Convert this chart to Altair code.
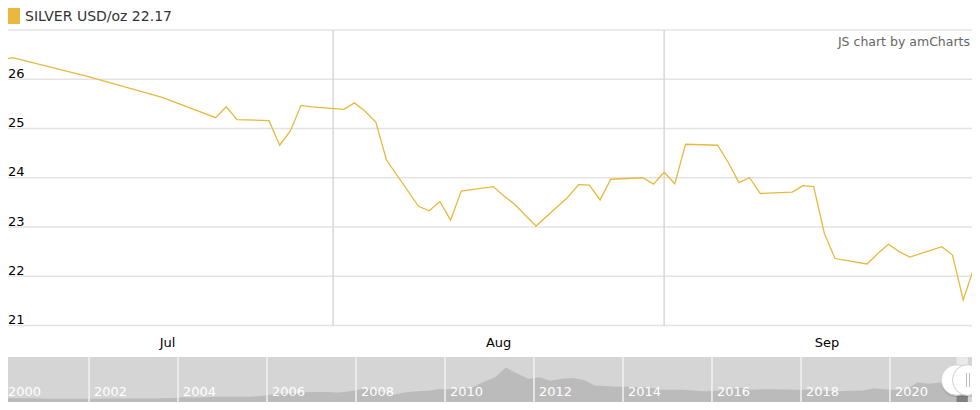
import altair as alt
import pandas as pd

# ---------------- data ----------------
dates = [
    "2021-06-30", "2021-07-01", "2021-07-02", "2021-07-09", "2021-07-16",
    "2021-07-21", "2021-07-22", "2021-07-23", "2021-07-26", "2021-07-27",
    "2021-07-28", "2021-07-29", "2021-07-30", "2021-08-02", "2021-08-03",
    "2021-08-04", "2021-08-05", "2021-08-06", "2021-08-09", "2021-08-10",
    "2021-08-11", "2021-08-12", "2021-08-13", "2021-08-16", "2021-08-17",
    "2021-08-18", "2021-08-19", "2021-08-20", "2021-08-23", "2021-08-24",
    "2021-08-25", "2021-08-26", "2021-08-27", "2021-08-30", "2021-08-31",
    "2021-09-01", "2021-09-02", "2021-09-03", "2021-09-06", "2021-09-07",
    "2021-09-08", "2021-09-09", "2021-09-10", "2021-09-13", "2021-09-14",
    "2021-09-15", "2021-09-16", "2021-09-17", "2021-09-20", "2021-09-21",
    "2021-09-22", "2021-09-23", "2021-09-24", "2021-09-27", "2021-09-28",
    "2021-09-29", "2021-09-30", "2021-10-01",
]
prices = [
    26.34, 26.39, 26.44, 26.06, 25.63,
    25.22, 25.44, 25.18, 25.16, 24.66,
    24.95, 25.47, 25.44, 25.39, 25.52,
    25.35, 25.13, 24.36, 23.42, 23.33,
    23.52, 23.14, 23.73, 23.82, 23.63,
    23.46, 23.24, 23.02, 23.61, 23.86,
    23.85, 23.55, 23.97, 24.00, 23.87,
    24.11, 23.88, 24.68, 24.66, 24.31,
    23.90, 24.00, 23.68, 23.71, 23.84,
    23.82, 22.87, 22.36, 22.25, 22.46,
    22.65, 22.50, 22.39, 22.60, 22.43,
    21.52, 22.17, 22.58,
]

y_ticks = [21, 22, 23, 24, 25, 26]
grid_values = [21, 22, 23, 24, 25, 26, 27]
month_starts = ["2021-08-01", "2021-09-01"]
month_labels = ["Jul", "Aug", "Sep"]
month_label_dates = ["2021-07-16T12:00:00Z", "2021-08-16T12:00:00Z", "2021-09-16T06:00:00Z"]

legend_text = "SILVER USD/oz 22.17"
credit_text = "JS chart by amCharts"

# long-history silver series for the scrollbar (quarterly)
hist_dates = (["2000-01-01"]
              + [f"{y}-{m}-15" for y in range(2000, 2022) for m in ("02", "05", "08", "11")][:-1]
              + ["2021-10-01"])
hist_values = [
    5.3,
    5.3, 5.0, 4.9, 4.7,
    4.5, 4.4, 4.3, 4.5,
    4.5, 4.8, 4.6, 4.6,
    4.6, 4.6, 5.0, 5.2,
    6.5, 6.0, 6.5, 7.2,
    7.0, 7.2, 7.0, 8.0,
    10.0, 11.5, 11.8, 12.9,
    13.3, 13.3, 12.8, 14.4,
    17.0, 17.0, 13.0, 10.0,
    13.0, 14.5, 15.0, 17.5,
    17.0, 18.0, 19.5, 27.0,
    33.0, 46.0, 38.0, 31.0,
    33.0, 28.5, 31.0, 32.0,
    29.5, 22.0, 21.5, 20.5,
    20.5, 19.5, 19.0, 16.5,
    16.5, 16.5, 15.0, 14.5,
    15.0, 17.5, 19.5, 16.5,
    17.0, 17.0, 16.8, 16.5,
    16.5, 16.5, 14.8, 14.5,
    15.0, 15.0, 18.0, 17.0,
    16.0, 17.0, 26.0, 24.5,
    26.0, 26.0, 23.0,
    22.5,
]
year_marks = ["2000", "2002", "2004", "2006", "2008", "2010", "2012", "2014", "2016", "2018", "2020"]
selection = ["2021-07-01", "2021-10-01"]

# ---------------- layout ----------------
W, H = 964, 394
FONT = "DejaVu Sans"
GOLD = "#E9B83C"

x_main = alt.Scale(domain=[alt.DateTime(year=2021, month=7, date=1, utc=True),
                           alt.DateTime(year=2021, month=10, date=1, utc=True)],
                   range=[-6, 976.56])
y_main = alt.Scale(domain=[21, 27], range=[317.5, 22])
x_hist = alt.Scale(domain=[alt.DateTime(year=2000, month=1, date=1, utc=True),
                           alt.DateTime(year=2022, month=1, date=1, utc=True)],
                   range=[-8, 971])
y_hist = alt.Scale(domain=[0, 60], range=[394, 349])

main_df = pd.DataFrame({"date": dates, "price": prices})
hist_df = pd.DataFrame({"date": hist_dates, "price": hist_values})
one = pd.DataFrame({"k": [0]})

# scrollbar
scroll_bg = alt.Chart(one).mark_rect(color="#d5d5d5").encode(
    x=alt.value(0), x2=alt.value(W), y=alt.value(349), y2=alt.value(394))
scroll_area = alt.Chart(hist_df).mark_area(color="#bbbbbb", interpolate="linear").encode(
    x=alt.X("date:T", scale=x_hist, axis=None),
    y=alt.Y("price:Q", scale=y_hist, axis=None))
year_df = pd.DataFrame({"year": [y + "-01-01" for y in year_marks], "label": year_marks})
year_lines = alt.Chart(year_df).mark_rule(color="#f2f2f2", strokeWidth=1.5).encode(
    x=alt.X("year:T", scale=x_hist, axis=None), y=alt.value(349), y2=alt.value(394))
year_text = alt.Chart(year_df).transform_filter(
    alt.datum.label != year_marks[0]
).mark_text(
    align="left", baseline="middle", dx=5, font=FONT, fontSize=13, color="white").encode(
    x=alt.X("year:T", scale=x_hist, axis=None), y=alt.value(383.5), text="label:N")
first_year_text = alt.Chart(pd.DataFrame({"label": [year_marks[0]]})).mark_text(
    align="left", baseline="middle", font=FONT, fontSize=13, color="white").encode(
    x=alt.value(0), y=alt.value(383.5), text="label:N")
sel_df = pd.DataFrame({"start": [selection[0]], "end": [selection[1]]})
sel_rect = alt.Chart(sel_df).mark_rect(color="#e9e9e9").encode(
    x=alt.X("start:T", scale=x_hist, axis=None), x2="end:T", y=alt.value(349), y2=alt.value(388))
sel_dark = alt.Chart(sel_df).mark_rect(color="#808080").encode(
    x=alt.X("start:T", scale=x_hist, axis=None), x2="end:T", y=alt.value(388), y2=alt.value(394))

handles_df = pd.DataFrame({"d": selection})
handle_shadow = alt.Chart(handles_df).mark_circle(size=1000, color="#000000", opacity=0.10, yOffset=1.5).encode(
    x=alt.X("d:T", scale=x_hist, axis=None), y=alt.value(372))
handles = alt.Chart(handles_df).mark_circle(size=940, fill="white", stroke="#d0d0d0",
                                            strokeWidth=1, opacity=1).encode(
    x=alt.X("d:T", scale=x_hist, axis=None), y=alt.value(372))
grip1 = alt.Chart(one).mark_rule(color="#bdbdbd", strokeWidth=1).encode(
    x=alt.value(958.5), y=alt.value(365), y2=alt.value(379))
grip2 = alt.Chart(one).mark_rule(color="#bdbdbd", strokeWidth=1).encode(
    x=alt.value(961.5), y=alt.value(365), y2=alt.value(379))

# main plot
grid_df = pd.DataFrame({"v": grid_values})
hgrid = alt.Chart(grid_df).mark_rule(color="#e3e3e3", strokeWidth=1.5).encode(
    y=alt.Y("v:Q", scale=y_main, axis=None), x=alt.value(0), x2=alt.value(W))
vgrid_df = pd.DataFrame({"d": month_starts, "lo": [21] * len(month_starts), "hi": [27] * len(month_starts)})
vgrid = alt.Chart(vgrid_df).mark_rule(color="#d8d8d8", strokeWidth=1.5).encode(
    x=alt.X("d:T", scale=x_main, axis=None),
    y=alt.Y("lo:Q", scale=y_main, axis=None), y2="hi:Q")
line = alt.Chart(main_df).mark_line(color=GOLD, strokeWidth=1.3, clip=True).encode(
    x=alt.X("date:T", scale=x_main, axis=None),
    y=alt.Y("price:Q", scale=y_main, axis=None))
ylab_df = pd.DataFrame({"v": y_ticks, "t": [str(v) for v in y_ticks]})
ylabels = alt.Chart(ylab_df).mark_text(
    align="left", baseline="alphabetic", dy=-1.5, font=FONT, fontSize=13, color="#000000").encode(
    x=alt.value(0), y=alt.Y("v:Q", scale=y_main, axis=None), text="t:N")
mlab_df = pd.DataFrame({"d": month_label_dates, "t": month_labels})
mlabels = alt.Chart(mlab_df).mark_text(
    align="center", baseline="middle", font=FONT, fontSize=13, color="#000000").encode(
    x=alt.X("d:T", scale=x_main, axis=None), y=alt.value(335), text="t:N")

swatch = alt.Chart(one).mark_rect(color=GOLD).encode(
    x=alt.value(0), x2=alt.value(12), y=alt.value(0), y2=alt.value(16))
legend = alt.Chart(pd.DataFrame({"t": [legend_text]})).mark_text(
    align="left", baseline="middle", font=FONT, fontSize=14, color="#333333").encode(
    x=alt.value(17), y=alt.value(8.5), text="t:N")
credit = alt.Chart(pd.DataFrame({"t": [credit_text]})).mark_text(
    align="right", baseline="middle", font=FONT, fontSize=12.5, color="#666666").encode(
    x=alt.value(962), y=alt.value(34), text="t:N")

chart = alt.layer(
    scroll_bg, sel_rect, scroll_area, sel_dark, year_lines, year_text, first_year_text,
    handle_shadow, handles, grip1, grip2,
    hgrid, vgrid, line, ylabels, mlabels, swatch, legend, credit,
).resolve_scale(x="independent", y="independent").properties(
    width=W, height=H, padding=0,
    autosize=alt.AutoSizeParams(type="none"),
).configure_view(stroke=None)

chart.save("out.html", embed_options={"renderer": "svg", "actions": False})
